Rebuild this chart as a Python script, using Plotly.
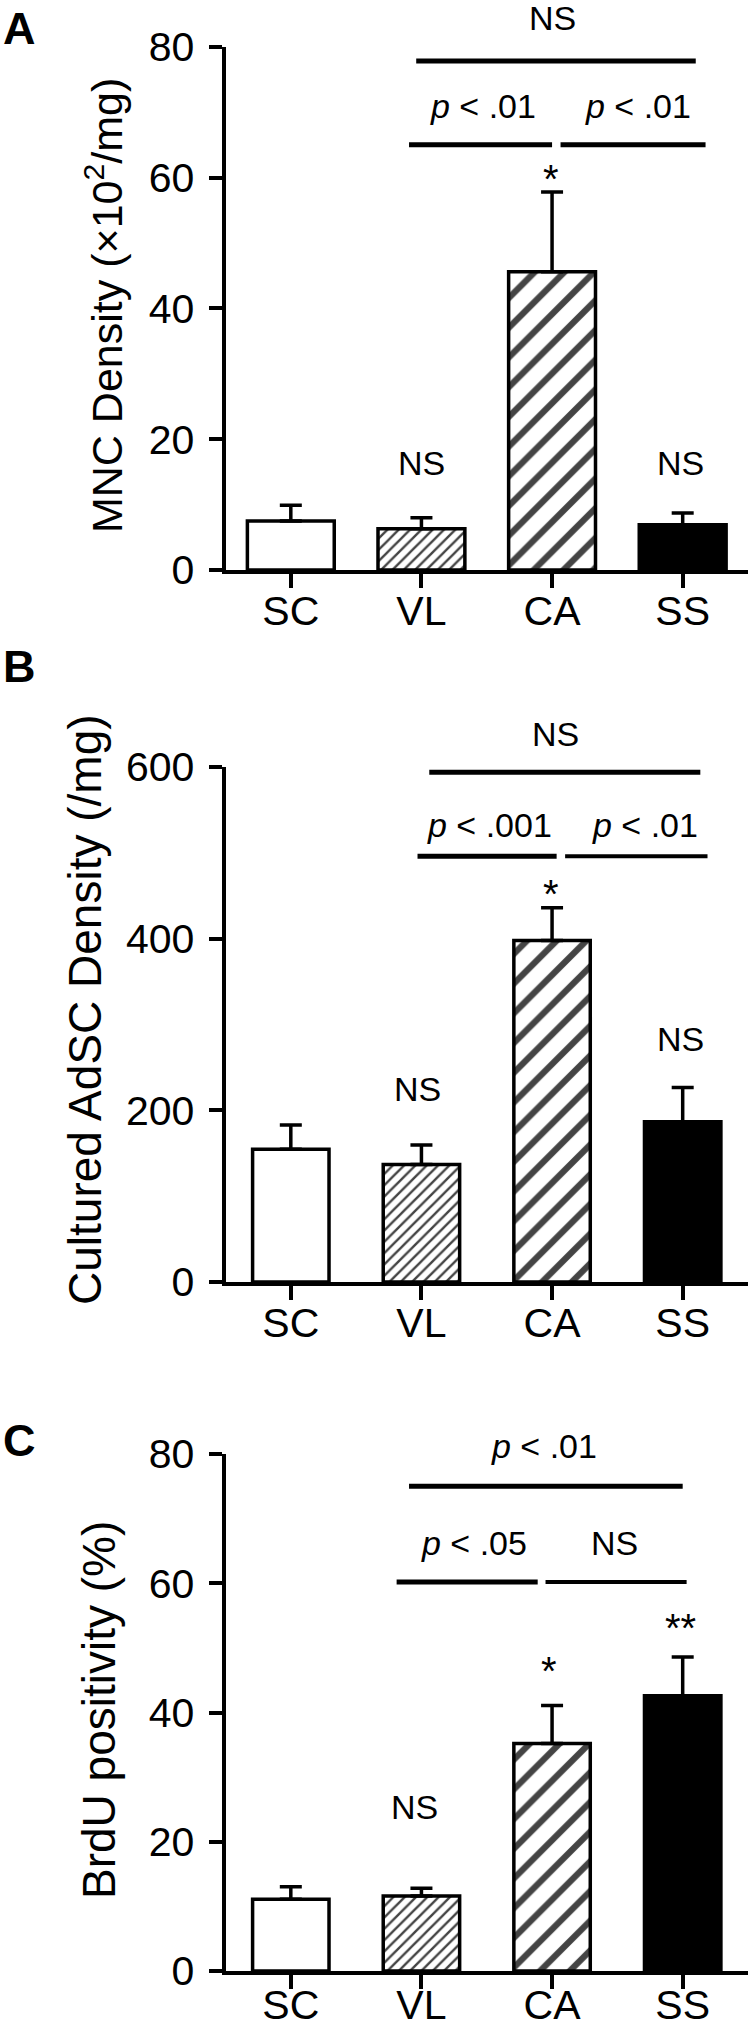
import plotly.graph_objects as go

# groups shown on every panel
groups = ["SC", "VL", "CA", "SS"]

# panel A: MNC density (x10^2/mg)
mnc_mean = [7.5, 6.3, 45.6, 6.9]
mnc_sem = [2.4, 1.7, 12.2, 1.8]

# panel B: cultured AdSC density (/mg)
adsc_mean = [154.6, 137.0, 398.0, 186.8]
adsc_sem = [28.4, 22.7, 38.0, 39.7]

# panel C: BrdU positivity (%)
brdu_mean = [11.1, 11.6, 35.2, 42.6]
brdu_sem = [1.95, 1.2, 5.9, 6.0]

y_ticks_a = [0, 20, 40, 60, 80]
y_ticks_b = [0, 200, 400, 600]
y_ticks_c = [0, 20, 40, 60, 80]

FONT = "Liberation Sans, Arial, sans-serif"
W, H = 752, 2030


def px_x(x):
    return x / W


def px_y(y):
    return 1 - y / H


panels = [
    dict(key="", mean=mnc_mean, sem=mnc_sem, ticks=y_ticks_a, rng=[0, 80],
         top_px=46.7, bot_px=570, width=0.665, letter="A", letter_y=28, standoff=-12,
         title="MNC Density (×10<sup>2</sup>/mg)", title_x=104, title_y=306, title_size=43,
         lines=[(0.96, 3.10, 77.8, 5), (0.905, 2.00, 65.0, 5), (2.065, 3.175, 65.0, 5)],
         notes=[("NS", 2.0, 84.4), ("<i>p</i> < .01", 1.47, 70.9), ("<i>p</i> < .01", 2.66, 70.9),
                ("*", 1.995, 59.8), ("NS", 1.0, 16.4), ("NS", 2.98, 16.4)]),
    dict(key="2", mean=adsc_mean, sem=adsc_sem, ticks=y_ticks_b, rng=[0, 600],
         top_px=767, bot_px=1282, width=0.585, letter="B", letter_y=667, standoff=-12,
         title="Cultured AdSC Density (/mg)", title_x=85, title_y=1010, title_size=46,
         lines=[(1.06, 3.135, 594, 5), (0.97, 2.035, 496, 5), (2.10, 3.19, 496, 4)],
         notes=[("NS", 2.03, 639), ("<i>p</i> < .001", 1.52, 532), ("<i>p</i> < .01", 2.71, 532),
                ("*", 1.99, 452), ("NS", 0.97, 225), ("NS", 2.98, 283)]),
    dict(key="3", mean=brdu_mean, sem=brdu_sem, ticks=y_ticks_c, rng=[0, 80],
         top_px=1454, bot_px=1971, width=0.585, letter="C", letter_y=1440, standoff=-19,
         title="BrdU positivity (%)", title_x=99, title_y=1710, title_size=46,
         lines=[(0.905, 3.0, 75.0, 5), (0.81, 1.89, 60.2, 5), (1.95, 3.03, 60.2, 4)],
         notes=[("<i>p</i> < .01", 1.94, 81.3), ("<i>p</i> < .05", 1.40, 66.3), ("NS", 2.48, 66.3),
                ("*", 1.98, 46.4), ("**", 2.98, 53.1), ("NS", 0.95, 25.4)]),
]

fig = go.Figure()
layout = dict(
    template="none",
    width=W, height=H,
    margin=dict(l=0, r=0, t=0, b=0, pad=0),
    paper_bgcolor="white", plot_bgcolor="white",
    showlegend=False,
    font=dict(family=FONT, color="black"),
)
annotations = []
shapes = []

for p in panels:
    k = p["key"]
    d0, d1 = px_y(p["bot_px"]), px_y(p["top_px"])
    top = p["rng"][1]

    def to_paper(v):
        # value on this panel's y scale -> paper fraction (works above the axis top too)
        return d0 + v / top * (d1 - d0)

    fig.add_trace(go.Bar(
        x=groups, y=p["mean"],
        xaxis="x" + k, yaxis="y" + k,
        width=p["width"],
        marker=dict(
            color=["white", "white", "white", "black"],
            line=dict(color="black", width=3.5),
            pattern=dict(shape=["", "/", "/", ""], size=[8, 8, 21, 8],
                         solidity=0.3, fgcolor="black", fgopacity=1,
                         fillmode="overlay"),
        ),
        error_y=dict(type="data", array=p["sem"], arrayminus=[0] * 4, symmetric=False,
                     color="black", thickness=3.5, width=11),
    ))
    layout["xaxis" + k] = dict(
        domain=[px_x(225.5), px_x(748)], range=[-0.5, 3.5], anchor="y" + k,
        showline=True, linecolor="black", linewidth=4, showgrid=False, zeroline=False,
        ticks="outside", ticklen=14, tickwidth=3.5, tickcolor="black", automargin=False,
        ticklabelstandoff=p["standoff"],
        tickfont=dict(size=41, family=FONT, color="black"), fixedrange=True,
    )
    layout["yaxis" + k] = dict(
        domain=[d0, d1], range=p["rng"], anchor="x" + k,
        tickvals=p["ticks"],
        showline=True, linecolor="black", linewidth=4, showgrid=False, zeroline=False,
        ticks="outside", ticklen=13, tickwidth=3.5, tickcolor="black", automargin=False,
        ticklabelstandoff=6,
        tickfont=dict(size=41, family=FONT, color="black"), fixedrange=True,
    )
    annotations.append(dict(
        text="<b>" + p["letter"] + "</b>", xref="paper", yref="paper",
        x=px_x(19), y=px_y(p["letter_y"]), xanchor="center", yanchor="middle",
        showarrow=False, font=dict(size=45, family=FONT, color="black"),
    ))
    annotations.append(dict(
        text=p["title"], xref="paper", yref="paper", textangle=-90,
        x=px_x(p["title_x"]), y=px_y(p["title_y"]), xanchor="center", yanchor="middle",
        showarrow=False, font=dict(size=p["title_size"], family=FONT, color="black"),
    ))
    for x0, x1, yv, lw in p["lines"]:
        shapes.append(dict(type="line", xref="x" + k, yref="y" + k,
                           x0=x0, x1=x1, y0=yv, y1=yv,
                           line=dict(color="black", width=lw)))
    for txt, xv, yv in p["notes"]:
        annotations.append(dict(
            text=txt, xref="x" + k, yref="paper", x=xv, y=to_paper(yv),
            xanchor="center", yanchor="middle", showarrow=False,
            font=dict(size=40 if "*" in txt else 34, family=FONT, color="black"),
        ))

layout["annotations"] = annotations
layout["shapes"] = shapes
fig.update_layout(**layout)

# drop the default 8px body margin so the figure starts at the page corner
fig.write_html("out.html", config={"displayModeBar": False},
               post_script="document.body.style.margin = '0';")
